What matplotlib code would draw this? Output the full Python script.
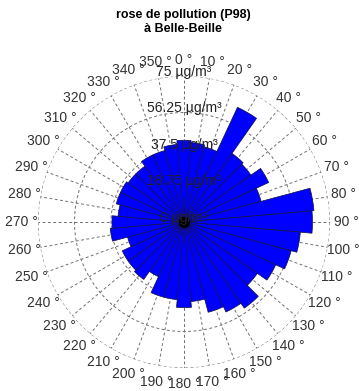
import numpy as np
import matplotlib
matplotlib.use("Agg")
import matplotlib.pyplot as plt

plt.rcParams['font.family'] = ['Liberation Sans', 'DejaVu Sans']

# P98 par secteur de vent (centre du secteur, degres)
directions = list(range(0, 360, 10))
p98 = [42, 41, 40, 65, 43, 42, 48, 41, 67, 66,
       60, 57, 52, 46, 54, 51, 48, 41, 44, 40,
       40, 31, 36, 35, 35, 30, 38, 37, 34, 36,
       36, 35, 35, 38, 38, 40]
ring_values = [0, 18.75, 37.5, 56.25, 75]
ring_labels = ['0 µg/m³', '18.75 µg/m³', '37.5 µg/m³', '56.25 µg/m³', '75 µg/m³']
angle_labels = [f'{d} °' for d in directions]
title_lines = ['rose de pollution (P98)', 'à Belle-Beille']

rmax = ring_values[-1]

fig = plt.figure(figsize=(3.59, 3.91), dpi=100)
ax = fig.add_axes([0.1058, 0.0588, 0.8134, 0.7468], projection='polar')
ax.set_theta_zero_location('N')
ax.set_theta_direction(-1)
ax.set_ylim(0, rmax)
ax.grid(False)
ax.set_xticks([])
ax.set_yticks([])
ax.spines['polar'].set_visible(False)

# grille en pointilles
t = np.linspace(0, 2 * np.pi, 400)
for r in ring_values[1:]:
    ax.plot(t, np.full_like(t, r), ls=(0, (3, 2.5)), color='#707070', lw=0.7, zorder=1)
for d in directions:
    ax.plot([np.radians(d)] * 2, [0, rmax], ls=(0, (3, 2.5)), color='#707070', lw=0.7, zorder=1)

theta = np.radians(directions)
ax.bar(theta, p98, width=np.radians(10), bottom=0, color='#0000ff',
       edgecolor='#101040', linewidth=0.5, zorder=2)
ax.plot(0, 0, 'o', color='black', ms=7, zorder=4, clip_on=False)

for r, lab in zip(ring_values, ring_labels):
    ax.annotate(lab, (0, r), xytext=(0, 3), textcoords='offset points',
                ha='center', va='center', fontsize=10, color='#222222', zorder=5)

for d, lab in zip(directions, angle_labels):
    ax.text(np.radians(d), rmax * 1.11, lab, ha='center', va='center',
            fontsize=10, color='#333333', clip_on=False)

fig.text(0.51, 0.962, title_lines[0], ha='center', va='center', fontsize=9, fontweight='bold')
fig.text(0.51, 0.926, title_lines[1], ha='center', va='center', fontsize=9, fontweight='bold')

fig.savefig('out.png', dpi=100)
